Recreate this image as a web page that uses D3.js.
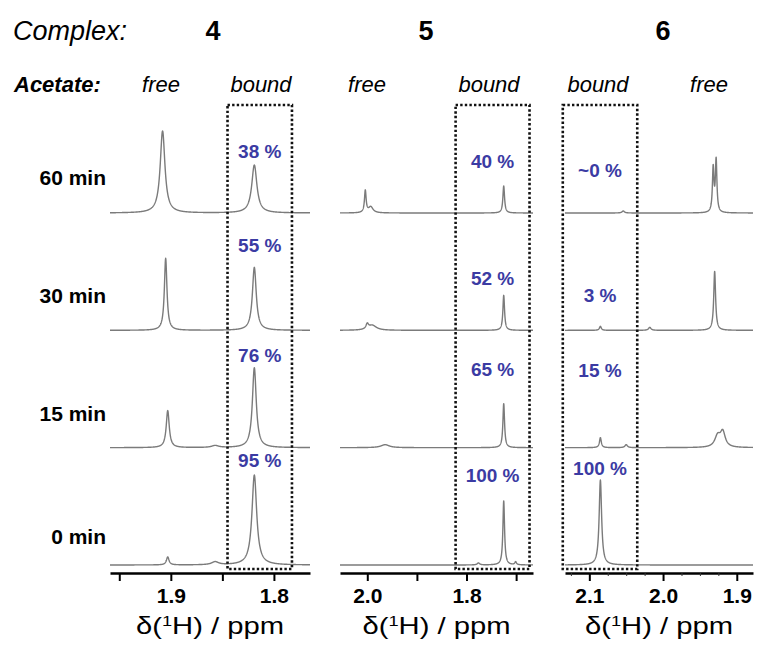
<!DOCTYPE html>
<html><head><meta charset="utf-8">
<script src="https://cdn.jsdelivr.net/npm/d3@7"></script>
<style>
html,body{margin:0;padding:0;background:#fff;}
svg{display:block;font-family:"Liberation Sans",Arial,sans-serif;}
</style></head>
<body><svg id="c" width="757" height="646"></svg>
<script>
// ---------------- data ----------------
const complexes = ["4", "5", "6"];
const rows = ["60 min", "30 min", "15 min", "0 min"];

// bound-acetate percentages per complex (rows top to bottom)
const pct4 = ["38 %", "55 %", "76 %", "95 %"];
const pct5 = ["40 %", "52 %", "65 %", "100 %"];
const pct6 = ["~0 %", "3 %", "15 %", "100 %"];

// ppm windows of each panel (left -> right)
const domain4 = [1.959, 1.765];
const domain5 = [2.055, 1.666];
const domain6 = [2.133, 1.878];

// "bound" windows (ppm)
const box4 = [1.845, 1.7825];
const box5 = [1.822, 1.673];
const box6 = [2.136, 2.035];

// axis ticks
const ticks4 = [1.95, 1.9, 1.85, 1.8];
const tickLabels4 = ["", "1.9", "", "1.8"];
const ticks5 = [2.0, 1.9, 1.8, 1.7];
const tickLabels5 = ["2.0", "", "1.8", ""];
const ticks6 = [2.1, 2.0, 1.9];
const tickLabels6 = ["2.1", "2.0", "1.9"];
const minorTicks6 = [2.125, 2.075, 2.05, 2.025, 1.975, 1.95, 1.925];

// peaks: [ppm, height, width(ppm)] per row
const peaks4 = [
  [[1.908, 82, 0.0055], [1.819, 48, 0.006]],
  [[1.905, 72, 0.003], [1.819, 63, 0.0045]],
  [[1.903, 37, 0.0035], [1.857, 2, 0.008], [1.819, 80, 0.0045]],
  [[1.903, 8, 0.003], [1.857, 3, 0.008], [1.819, 90, 0.0055]]
];
const peaks5 = [
  [[2.004, 22, 0.004], [1.993, 6, 0.011], [1.725, 27, 0.004]],
  [[2.0, 5, 0.006], [1.99, 5, 0.02], [1.725, 35, 0.004]],
  [[1.964, 3, 0.02], [1.725, 44, 0.004]],
  [[1.776, 2, 0.006], [1.725, 64, 0.004], [1.701, 3, 0.004]]
];
const peaks6 = [
  [[2.054, 2, 0.004], [1.932, 44, 0.0025], [1.928, 52, 0.0025]],
  [[2.085, 4, 0.003], [2.018, 3, 0.004], [1.930, 59, 0.003]],
  [[2.085, 10, 0.003], [2.05, 3, 0.004], [1.926, 11, 0.009], [1.919, 15, 0.008]],
  [[2.085, 85, 0.004]]
];

// ---------------- layout ----------------
const panels = [
  {id: complexes[0], range: [110, 310], domain: domain4, box: box4, peaks: peaks4, ticks: ticks4, tickLabels: tickLabels4, minor: [], pct: pct4,
   pctLift: [55, 78, 86, 98], headX: 213, heads: [["free", 161], ["bound", 261]]},
  {id: complexes[1], range: [340, 533], domain: domain5, box: box5, peaks: peaks5, ticks: ticks5, tickLabels: tickLabels5, minor: [], pct: pct5,
   pctLift: [45, 45, 72, 83], headX: 426, heads: [["free", 367], ["bound", 489]]},
  {id: complexes[2], range: [565, 753], domain: domain6, box: box6, peaks: peaks6, ticks: ticks6, tickLabels: tickLabels6, minor: minorTicks6, pct: pct6,
   pctLift: [36, 28, 71, 90], headX: 663, heads: [["bound", 598], ["free", 709]]}
];
const rowLabelLift = [28, 27, 27, 21];
const axisY = 573, boxTop = 105, boxBottom = 569;

const svg = d3.select("#c");
const rowY = d3.scalePoint().domain(rows).range([213, 565]);
const hScale = d3.scaleLinear().domain([0, 100]).range([0, 100]);

// titles
svg.append("text").attr("x", 13).attr("y", 40).attr("font-size", 27).attr("font-style", "italic").text("Complex:");
svg.append("text").attr("x", 14).attr("y", 92).attr("font-size", 22).attr("font-style", "italic").attr("font-weight", "bold").text("Acetate:");

rows.forEach((r, i) => {
  svg.append("text").attr("x", 106).attr("y", rowY(r) - rowLabelLift[i]).attr("text-anchor", "end")
    .attr("font-size", 21).attr("font-weight", "bold").text(r);
});

panels.forEach(p => {
  const x = d3.scaleLinear().domain(p.domain).range(p.range);
  const g = svg.append("g");

  g.append("text").attr("x", p.headX).attr("y", 40).attr("text-anchor", "middle")
    .attr("font-size", 27).attr("font-weight", "bold").text(p.id);
  p.heads.forEach(([t, hx]) => {
    g.append("text").attr("x", hx).attr("y", 92).attr("text-anchor", "middle")
      .attr("font-size", 22).attr("font-style", "italic").text(t);
  });

  // spectra
  const grid = d3.range(p.domain[0], p.domain[1], -0.0002);
  rows.forEach((r, i) => {
    const pk = p.peaks[i];
    const pts = grid.map(v => {
      let s = 0;
      pk.forEach(([c, h, w]) => { const u = (v - c) / (w / 2); s += h / (1 + u * u); });
      return [v, s];
    });
    const base = rowY(r);
    const line = d3.line().x(d => x(d[0])).y(d => base - hScale(d[1]));
    g.append("path").attr("d", line(pts)).attr("fill", "none")
      .attr("stroke", "#7b7b7b").attr("stroke-width", 1.4).attr("stroke-linejoin", "round");
  });

  // bound box
  const bx0 = x(p.box[0]), bx1 = x(p.box[1]);
  g.append("rect").attr("x", bx0).attr("y", boxTop).attr("width", bx1 - bx0).attr("height", boxBottom - boxTop)
    .attr("fill", "none").attr("stroke", "#111").attr("stroke-width", 2.6).attr("stroke-dasharray", "2.4 2.2");

  // percentages
  const cx = (bx0 + bx1) / 2;
  rows.forEach((r, i) => {
    g.append("text").attr("x", cx).attr("y", rowY(r) - p.pctLift[i]).attr("text-anchor", "middle")
      .attr("font-size", 19).attr("font-weight", "bold").attr("fill", "#3b3ba3").text(p.pct[i]);
  });

  // axis
  const ax = d3.axisBottom(x).tickValues(p.ticks).tickSize(8).tickSizeOuter(0).tickPadding(7)
    .tickFormat((d, i) => p.tickLabels[i]);
  const ag = g.append("g").attr("transform", `translate(0,${axisY})`).call(ax);
  ag.select(".domain").attr("stroke", "#000").attr("stroke-width", 2.6);
  ag.selectAll(".tick line").attr("stroke", "#000").attr("stroke-width", 2);
  ag.selectAll(".tick text").attr("font-size", 21).attr("font-weight", "bold").attr("fill", "#000")
    .attr("font-family", "'Liberation Sans',Arial,sans-serif");
  if (p.minor.length) {
    const mg = g.append("g").attr("transform", `translate(0,${axisY})`)
      .call(d3.axisBottom(x).tickValues(p.minor).tickSize(3).tickFormat(""));
    mg.select(".domain").remove();
    mg.selectAll(".tick line").attr("stroke", "#333").attr("stroke-width", 1);
  }

  // axis title
  const t = g.append("text").attr("x", (p.range[0] + p.range[1]) / 2).attr("y", 634).attr("text-anchor", "middle")
    .attr("font-size", 24).attr("textLength", 148).attr("lengthAdjust", "spacingAndGlyphs");
  t.append("tspan").text("δ(");
  t.append("tspan").attr("font-size", 15).attr("dy", -8).text("1");
  t.append("tspan").attr("dy", 8).text("H) / ppm");
});
</script></body></html>
